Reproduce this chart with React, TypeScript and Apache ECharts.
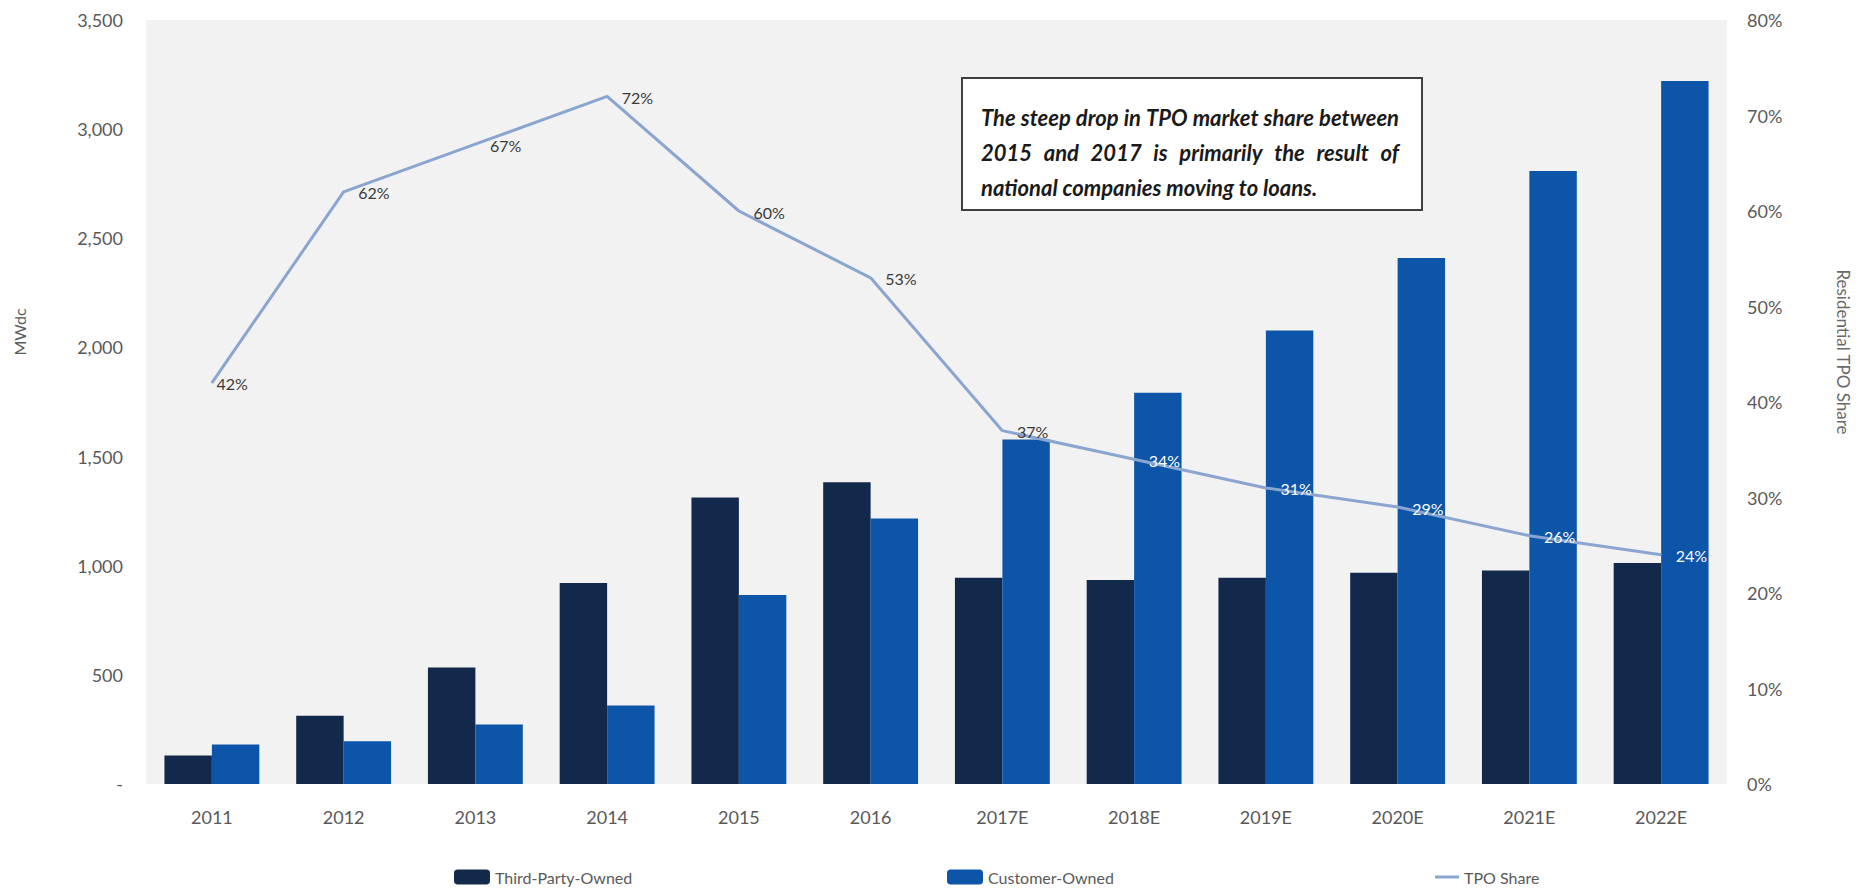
import React, { useEffect, useRef } from "react";
import * as echarts from "echarts";

const categories = ["2011", "2012", "2013", "2014", "2015", "2016", "2017E", "2018E", "2019E", "2020E", "2021E", "2022E"];
const thirdPartyOwned = [131, 313, 534, 921, 1312, 1382, 945, 935, 945, 968, 978, 1012];
const customerOwned = [181, 196, 273, 360, 866, 1216, 1578, 1792, 2078, 2410, 2808, 3220];
const tpoShare = [42, 62, 67, 72, 60, 53, 37, 34, 31, 29, 26, 24];
const tpoLabelColors = ["#3a3a3a", "#3a3a3a", "#3a3a3a", "#3a3a3a", "#3a3a3a", "#3a3a3a", "#3a3a3a", "#ffffff", "#ffffff", "#ffffff", "#ffffff", "#ffffff"];
const tpoLabelDistance = [4, 14, 14, 14, 14, 14, 14, 14, 14, 14, 14, 14];
const noteLines = [
  "The steep drop in TPO market share between",
  "2015 and 2017 is primarily the result of",
  "national companies moving to loans.",
];
const noteJustify = [true, true, false];

const FONT = "Lato, 'Liberation Sans', sans-serif";
const GRAY = "#595959";
const NOTE_FONT = `italic bold 22px ${FONT}`;

function measure(text: string, font: string): number {
  const c = document.createElement("canvas").getContext("2d")!;
  c.font = font;
  return c.measureText(text).width;
}

function noteElements(left: number, top: number, width: number, lineH: number) {
  const els: any[] = [];
  noteLines.forEach((line, li) => {
    const y = top + li * lineH;
    const words = line.split(" ");
    if (!noteJustify[li] || words.length < 2) {
      els.push({
        type: "text", x: left, y, z: 11,
        style: { text: line, fill: "#1a1a1a", font: NOTE_FONT, textVerticalAlign: "middle" },
      });
      return;
    }
    const widths = words.map((w) => measure(w, NOTE_FONT));
    const total = widths.reduce((a, b) => a + b, 0);
    const gap = (width - total) / (words.length - 1);
    let x = left;
    words.forEach((w, wi) => {
      els.push({
        type: "text", x, y, z: 11,
        style: { text: w, fill: "#1a1a1a", font: NOTE_FONT, textVerticalAlign: "middle" },
      });
      x += widths[wi] + gap;
    });
  });
  return els;
}

export default function App() {
  const ref = useRef<HTMLDivElement>(null);
  useEffect(() => {
    document.body.style.margin = "0";
    const chart = echarts.init(ref.current!, null, { renderer: "svg" });
    const option: any = {
      animation: false,
      backgroundColor: "#ffffff",
      textStyle: { fontFamily: FONT },
      grid: {
        left: 146,
        right: 135,
        top: 20,
        bottom: 104,
        show: true,
        backgroundColor: "#f2f2f2",
        borderWidth: 0,
      },
      legend: [
        {
          data: ["Third-Party-Owned"],
          left: 449,
          top: 864,
          itemWidth: 36,
          itemHeight: 15,
          textStyle: { color: GRAY, fontSize: 16, fontFamily: FONT },
        },
        {
          data: ["Customer-Owned"],
          left: 942,
          top: 864,
          itemWidth: 36,
          itemHeight: 15,
          textStyle: { color: GRAY, fontSize: 16, fontFamily: FONT },
        },
        {
          data: [{ name: "TPO Share", icon: "rect" }],
          left: 1430,
          top: 864,
          itemWidth: 24,
          itemHeight: 3,
          textStyle: { color: GRAY, fontSize: 16, fontFamily: FONT },
        },
      ],
      xAxis: {
        type: "category",
        data: categories,
        axisLine: { show: false },
        axisTick: { show: false },
        axisLabel: { color: GRAY, fontSize: 18, margin: 24, fontFamily: FONT },
      },
      yAxis: [
        {
          type: "value",
          min: 0,
          max: 3500,
          interval: 500,
          splitLine: { show: false },
          axisLine: { show: false },
          axisTick: { show: false },
          axisLabel: {
            color: GRAY,
            fontSize: 18,
            margin: 23,
            fontFamily: FONT,
            formatter: (v: number) => (v === 0 ? "-" : v.toLocaleString("en-US")),
          },
        },
        {
          type: "value",
          min: 0,
          max: 80,
          interval: 10,
          position: "right",
          splitLine: { show: false },
          axisLine: { show: false },
          axisTick: { show: false },
          axisLabel: { color: GRAY, fontSize: 18, margin: 20, fontFamily: FONT, formatter: "{value}%" },
        },
      ],
      series: [
        {
          name: "Third-Party-Owned",
          type: "bar",
          data: thirdPartyOwned,
          barGap: "0%",
          barCategoryGap: "28%",
          itemStyle: { color: "#13294b" },
        },
        {
          name: "Customer-Owned",
          type: "bar",
          data: customerOwned,
          barGap: "0%",
          barCategoryGap: "28%",
          itemStyle: { color: "#0d55a8" },
        },
        {
          name: "TPO Share",
          type: "line",
          yAxisIndex: 1,
          symbol: "circle",
          symbolSize: 1,
          lineStyle: { color: "#8aa6d0", width: 3 },
          itemStyle: { color: "#8aa6d0" },
          data: tpoShare.map((v, i) => ({
            value: v,
            label: { color: tpoLabelColors[i], distance: tpoLabelDistance[i] },
          })),
          label: {
            show: true,
            position: "right",
            offset: [0, 1],
            fontSize: 16,
            fontFamily: FONT,
            formatter: "{c}%",
          },
          z: 5,
        },
      ],
      graphic: [
        {
          type: "text",
          x: 19,
          y: 332,
          rotation: Math.PI / 2,
          style: { text: "MWdc", fill: GRAY, font: `16px ${FONT}`, textAlign: "center", textVerticalAlign: "middle" },
        },
        {
          type: "text",
          x: 1843,
          y: 352,
          rotation: -Math.PI / 2,
          style: { text: "Residential TPO Share", fill: "#6a6a6a", font: `17px ${FONT}`, textAlign: "center", textVerticalAlign: "middle" },
        },
        {
          type: "rect",
          shape: { x: 962, y: 78, width: 460, height: 132 },
          style: { fill: "#ffffff", stroke: "#404040", lineWidth: 2 },
          z: 10,
        },
        ...noteElements(981, 117, 418, 35),
      ],
    };
    chart.setOption(option);
    return () => chart.dispose();
  }, []);
  return <div ref={ref} style={{ width: 1862, height: 888 }} />;
}
